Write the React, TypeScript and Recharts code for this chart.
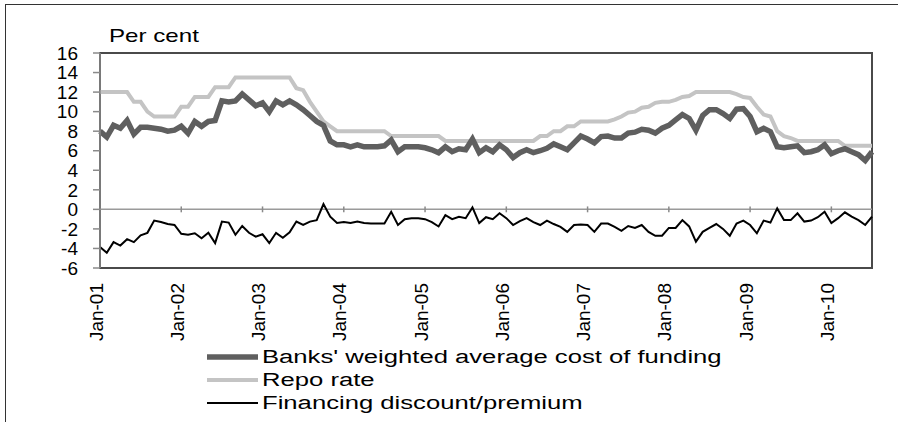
import { LineChart, Line, XAxis, YAxis, ReferenceLine, ReferenceArea, Legend } from "recharts"

const yearLabels = ["Jan-01", "Jan-02", "Jan-03", "Jan-04", "Jan-05", "Jan-06", "Jan-07", "Jan-08", "Jan-09", "Jan-10"]

// monthly, Jan-01 .. Jul-10
const fundingCost = [
  8.0, 7.4, 8.6, 8.3, 9.1, 7.7, 8.4, 8.4, 8.3, 8.2, 8.0, 8.1,
  8.5, 7.8, 9.0, 8.5, 9.0, 9.1, 11.1, 11.0, 11.1, 11.8, 11.2, 10.6,
  10.9, 10.0, 11.1, 10.7, 11.1, 10.7, 10.2, 9.6, 9.0, 8.6, 7.0, 6.6,
  6.6, 6.4, 6.6, 6.4, 6.4, 6.4, 6.5, 7.1, 5.9, 6.4, 6.4, 6.4,
  6.3, 6.1, 5.8, 6.4, 5.9, 6.2, 6.1, 7.2, 5.8, 6.3, 5.9, 6.6,
  6.1, 5.3, 5.8, 6.1, 5.8, 6.0, 6.25, 6.7, 6.4, 6.1, 6.8, 7.5,
  7.2, 6.8, 7.45, 7.5, 7.3, 7.3, 7.8, 7.9, 8.2, 8.1, 7.8, 8.3,
  8.6, 9.15, 9.7, 9.3, 8.1, 9.6, 10.2, 10.2, 9.8, 9.3, 10.25, 10.3,
  9.5, 7.95, 8.3, 7.95, 6.4, 6.3, 6.4, 6.5, 5.8, 5.9, 6.1, 6.6,
  5.7, 6.0, 6.2, 5.9, 5.6, 5.0, 5.9,
]

const repoRate = [
  12, 12, 12, 12, 12, 11, 11, 10, 9.5, 9.5, 9.5, 9.5,
  10.5, 10.5, 11.5, 11.5, 11.5, 12.5, 12.5, 12.5, 13.5, 13.5, 13.5, 13.5,
  13.5, 13.5, 13.5, 13.5, 13.5, 12.4, 12.2, 11, 10, 9, 8.5, 8,
  8, 8, 8, 8, 8, 8, 8, 7.5, 7.5, 7.5, 7.5, 7.5,
  7.5, 7.5, 7.5, 7, 7, 7, 7, 7, 7, 7, 7, 7,
  7, 7, 7, 7, 7, 7.5, 7.5, 8, 8, 8.5, 8.5, 9,
  9, 9, 9, 9, 9.2, 9.5, 9.9, 10, 10.4, 10.5, 10.9, 11,
  11, 11.2, 11.5, 11.6, 12, 12, 12, 12, 12, 12, 11.8, 11.5,
  11.4, 10.5, 9.7, 9.5, 8, 7.5, 7.3, 7, 7, 7, 7, 7,
  7, 7, 6.5, 6.5, 6.5, 6.5, 6.5,
]

const discountPremium = [
  -3.85, -4.45, -3.35, -3.7, -3.05, -3.35, -2.65, -2.4, -1.15, -1.3, -1.5, -1.6,
  -2.5, -2.6, -2.45, -2.95, -2.4, -3.45, -1.25, -1.35, -2.6, -1.7, -2.4, -2.8,
  -2.55, -3.45, -2.4, -2.9, -2.35, -1.25, -1.6, -1.25, -1.1, 0.55, -0.75, -1.4,
  -1.3, -1.4, -1.25, -1.4, -1.45, -1.45, -1.45, -0.25, -1.6, -1.0, -0.9, -0.9,
  -1.0, -1.3, -1.75, -0.6, -1.0, -0.75, -0.9, 0.2, -1.4, -0.8, -1.0, -0.4,
  -0.9, -1.6, -1.2, -0.9, -1.3, -1.6, -1.15, -1.5, -1.8, -2.3, -1.6, -1.55,
  -1.6, -2.3, -1.45, -1.45, -1.8, -2.2, -1.7, -1.9, -1.6, -2.3, -2.7, -2.7,
  -1.9, -1.9, -1.1, -1.75, -3.3, -2.3, -1.9, -1.5, -2.0, -2.7, -1.45, -1.15,
  -1.6, -2.45, -1.15, -1.35, 0.1, -1.1, -1.1, -0.4, -1.25, -1.15, -0.8, -0.25,
  -1.4, -0.9, -0.3, -0.75, -1.1, -1.6, -0.75,
]

const yTicks = [-6, -4, -2, 0, 2, 4, 6, 8, 10, 12, 14, 16]

const series = [
  { key: "funding", name: "Banks' weighted average cost of funding", color: "#5f5f5f", width: 5.5 },
  { key: "repo", name: "Repo rate", color: "#c4c4c4", width: 4 },
  { key: "discount", name: "Financing discount/premium", color: "#000000", width: 2 },
]

const data = fundingCost.map((v, i) => ({
  month: i,
  funding: v,
  repo: repoRate[i],
  discount: discountPremium[i],
}))
const yearTicks = yearLabels.map((_, k) => k * 12)
const lastMonth = fundingCost.length - 1

const font = "'Liberation Sans', Arial, sans-serif"
const stretch = 1.35

function XTick({ x, y, payload }: any) {
  const label = yearLabels[Math.round(payload.value / 12)]
  return (
    <text
      x={x - 4}
      y={y}
      transform={`rotate(-90 ${x - 4} ${y})`}
      textAnchor="end"
      dominantBaseline="central"
      fontSize={19}
      fontFamily={font}
      fill="#000"
    >
      {label}
    </text>
  )
}

function LegendBox() {
  return (
    <svg width={620} height={72}>
      {series.map((s, i) => {
        const cy = 12 + i * 23
        return (
          <g key={s.key}>
            <line x1={0} x2={51} y1={cy} y2={cy} stroke={s.color} strokeWidth={s.width} />
            <text
              transform={`translate(55 ${cy}) scale(${stretch} 1)`}
              dominantBaseline="central"
              fontSize={19}
              fontFamily={font}
              fill="#000"
            >
              {s.name}
            </text>
          </g>
        )
      })}
    </svg>
  )
}

export default function App() {
  return (
    <div style={{ position: "absolute", left: 0, top: 0, width: 898, height: 422, background: "#fff" }}>
      <div
        style={{
          position: "absolute",
          left: 5,
          top: 4,
          right: 0,
          bottom: 0,
          borderTop: "1.5px solid #333",
          borderLeft: "1.5px solid #333",
        }}
      />
      <div
        style={{
          position: "absolute",
          left: 109,
          top: 25,
          fontFamily: font,
          fontSize: 19,
          transform: `scaleX(1.27)`,
          transformOrigin: "left top",
          color: "#000",
          whiteSpace: "nowrap",
        }}
      >
        Per cent
      </div>
      <LineChart
        width={898}
        height={422}
        data={data}
        margin={{ top: 53, right: 26, bottom: 74, left: 0 }}
      >
        <XAxis
          dataKey="month"
          type="number"
          domain={[0, lastMonth]}
          ticks={yearTicks}
          axisLine={false}
          tickLine={false}
          tickSize={0}
          tickMargin={15}
          height={80}
          tick={<XTick />}
          interval={0}
        />
        <YAxis
          domain={[-6, 16]}
          ticks={yTicks}
          width={100}
          interval={0}
          axisLine={{ stroke: "#8a8a8a", strokeWidth: 1.5 }}
          tickLine={{ stroke: "#8a8a8a", strokeWidth: 1.5 }}
          tickSize={7}
          tickMargin={15}
          tick={{ fontSize: 19, fontFamily: font, fill: "#000" }}
        />
        <ReferenceArea
          x1={0}
          x2={lastMonth}
          y1={-6}
          y2={16}
          fill="none"
          stroke="#4a4a4a"
          strokeWidth={2}
        />
        <ReferenceLine y={0} stroke="#9a9a9a" strokeWidth={1.5} />
        {yearTicks.slice(1).map((t) => (
          <ReferenceLine
            key={t}
            segment={[{ x: t, y: -0.3 }, { x: t, y: 0.3 }]}
            stroke="#8a8a8a"
            strokeWidth={1.5}
          />
        ))}
        <Line dataKey="repo" name="Repo rate" stroke="#c4c4c4" strokeWidth={4} dot={false} isAnimationActive={false} />
        <Line dataKey="funding" name="Banks' weighted average cost of funding" stroke="#5f5f5f" strokeWidth={5.5} dot={false} isAnimationActive={false} />
        <Line dataKey="discount" name="Financing discount/premium" stroke="#000000" strokeWidth={2} dot={false} isAnimationActive={false} />
        <Legend
          layout="horizontal"
          verticalAlign="middle"
          align="center"
          content={<LegendBox />}
          wrapperStyle={{ left: 207, top: 345, width: 620, height: 72 }}
        />
      </LineChart>
    </div>
  )
}
